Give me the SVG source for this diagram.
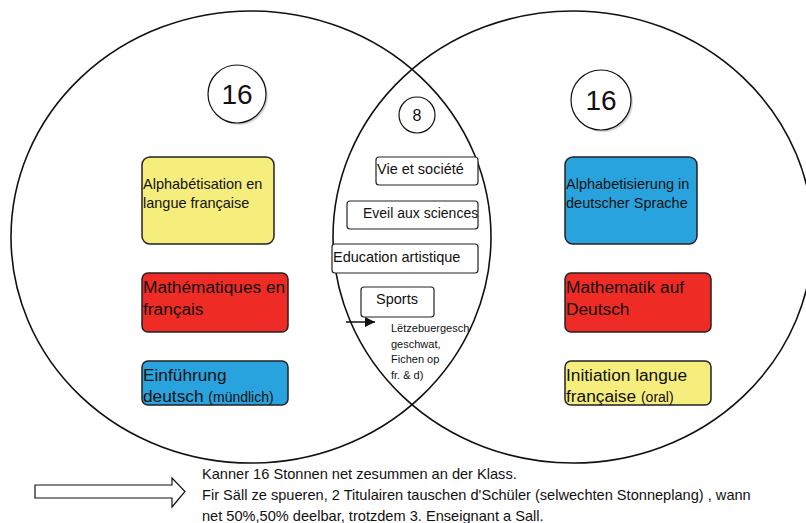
<svg xmlns="http://www.w3.org/2000/svg" width="806" height="523" viewBox="0 0 806 523">
<style>
.set{fill:none;stroke:#111;stroke-width:1.6}
.num{fill:#fff;stroke:#111;stroke-width:1.2}
.sh{fill:#bbb;opacity:0.6}
.box{stroke:#222;stroke-width:1.5}
.y{fill:#F5EE7C}.r{fill:#EE2B24}.b{fill:#29A3DD}
.sm{fill:#fff;stroke:#222;stroke-width:1.2}
text{font-family:"Liberation Sans",Arial,sans-serif;fill:#111}
.t14{font-size:14.5px}.t17{font-size:17.3px}.t13{font-size:14px}.t11{font-size:11px}
</style>
<defs>
<marker id="ah" viewBox="0 0 10 10" refX="10" refY="5" markerWidth="10" markerHeight="10" markerUnits="userSpaceOnUse" orient="auto"><path d="M0,0 L10,5 L0,10 z" fill="#111"/></marker>
</defs>
<g id="sets">
<ellipse class="set" cx="251" cy="237" rx="240" ry="226"/>
<ellipse class="set" cx="573" cy="237" rx="240" ry="226"/>
</g>
<g id="count-left"><circle class="sh" cx="239" cy="96" r="29"/><circle class="num" cx="237" cy="94" r="29"/><text x="237" y="104" font-size="28" text-anchor="middle">16</text></g>
<g id="count-right"><circle class="sh" cx="603" cy="102" r="30"/><circle class="num" cx="601" cy="100" r="30"/><text x="601" y="110" font-size="28" text-anchor="middle">16</text></g>
<g id="count-mid"><circle class="num" cx="417" cy="115" r="18"/><text x="417" y="121" font-size="16" text-anchor="middle">8</text></g>
<g id="alpha-fr"><rect class="box y" x="142" y="157" width="132" height="87" rx="8"/><text class="t14" x="143" y="189">Alphabétisation en</text><text class="t14" x="143" y="208">langue française</text></g>
<g id="math-fr"><rect class="box r" x="142" y="273" width="146" height="59" rx="6"/><text class="t17" x="143" y="293">Mathématiques en</text><text class="t17" x="143" y="315">français</text></g>
<g id="einf-de"><rect class="box b" x="142" y="361" width="146" height="44" rx="6"/><text class="t17" x="143" y="381">Einführung</text><text class="t17" x="143" y="402">deutsch <tspan class="t13">(mündlich)</tspan></text></g>
<g id="alpha-de"><rect class="box b" x="565" y="157" width="132" height="87" rx="8"/><text class="t14" x="566" y="189">Alphabetisierung in</text><text class="t14" x="566" y="208">deutscher Sprache</text></g>
<g id="math-de"><rect class="box r" x="565" y="273" width="146" height="59" rx="6"/><text class="t17" x="566" y="293">Mathematik auf</text><text class="t17" x="566" y="315">Deutsch</text></g>
<g id="init-fr"><rect class="box y" x="565" y="361" width="146" height="44" rx="6"/><text class="t17" x="566" y="381">Initiation langue</text><text class="t17" x="566" y="402">française <tspan class="t13">(oral)</tspan></text></g>
<g id="vie"><rect class="sm" x="376" y="157" width="102" height="28" rx="3"/><text class="t14" x="377" y="174">Vie et société</text></g>
<g id="eveil"><rect class="sm" x="347" y="201" width="131" height="28" rx="3"/><text class="t13" x="363" y="218">Eveil aux sciences</text></g>
<g id="edu"><rect class="sm" x="332" y="244" width="146" height="29" rx="3"/><text class="t14" x="333" y="262">Education artistique</text></g>
<g id="sports"><rect class="sm" x="361" y="287" width="73" height="30" rx="3"/><text class="t14" x="376" y="304">Sports</text></g>
<g id="lux"><text class="t11" x="391" y="332">Lëtzebuergesch</text><text class="t11" x="391" y="348">geschwat,</text><text class="t11" x="391" y="363">Fichen op</text><text class="t11" x="391" y="379">fr. &amp; d)</text></g>
<g id="connectors"><line x1="346" y1="322" x2="375" y2="322" stroke="#111" stroke-width="1.5" marker-end="url(#ah)"/></g>
<g id="note-arrow"><path d="M35,485 H172 V478 L185,491.5 L172,507 V498 H35 Z" fill="#fff" stroke="#111" stroke-width="1.2"/></g>
<g id="note">
<text x="202" y="479" font-size="14.6">Kanner 16 Stonnen net zesummen an der Klass.</text>
<text x="202" y="500" font-size="14.6">Fir Säll ze spueren, 2 Titulairen tauschen d'Schüler (selwechten Stonneplang) , wann</text>
<text x="202" y="521" font-size="14.6">net 50%,50% deelbar, trotzdem 3. Enseignant a Sall.</text>
</g>
</svg>
